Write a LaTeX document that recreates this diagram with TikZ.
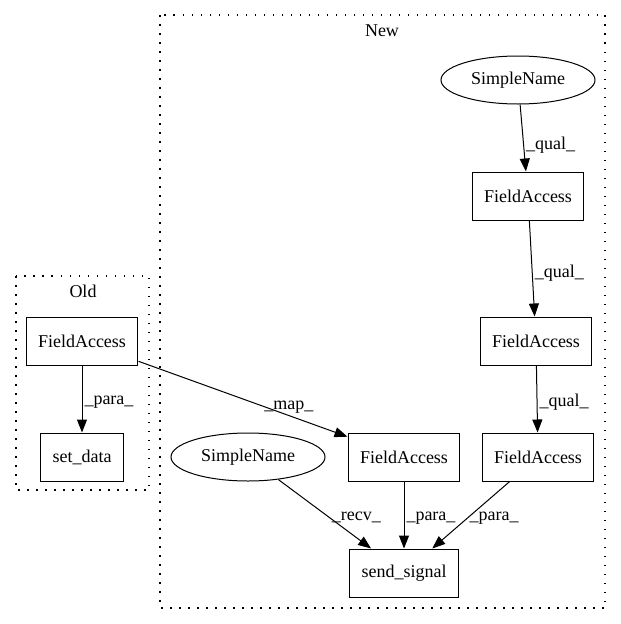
\documentclass[tikz,border=0pt]{standalone}
\usepackage{fontspec}
\setmainfont{Liberation Serif}
\usetikzlibrary{arrows.meta,shapes.geometric}

\begin{document}
\begin{tikzpicture}
      [x=1pt, y=-1pt,
       every node/.style={font=\fontsize{18}{20}\selectfont},
       box/.style={draw, rectangle, line width=1pt, minimum height=48pt, inner xsep=12pt},
       oval/.style={draw, ellipse, line width=1pt, minimum width=154pt, minimum height=48pt, inner sep=0pt},
       cluster/.style={draw, line width=1.5pt, dash pattern=on 1.5pt off 7.5pt},
       edge/.style={line width=1pt, -{Triangle[length=13pt, width=10pt]}},
       lbl/.style={inner sep=2pt}]
      \useasboundingbox (0,0) rectangle (621,624);

      % Clusters
      \draw[cluster] (16,276) rectangle (149,490);
      \draw[cluster] (160,15) rectangle (605,608);
      \node (old) at (83,291) {Old};
      \node (new) at (382,31) {New};

      % Set up nodes
      \node[box] (ofa) at (82,341) {FieldAccess};
      \node[box] (sd) at (82,457) {set\_data};

      \node[oval] (sn1) at (518,80) {SimpleName};
      \node[box] (fa1) at (528,196) {FieldAccess};
      \node[box] (fa2) at (536,341) {FieldAccess};
      \node[box] (fa3) at (538,457) {FieldAccess};
      \node[box] (fa4) at (404,457) {FieldAccess};
      \node[oval] (sn2) at (248,457) {SimpleName};
      \node[box] (ss) at (404,573) {send\_signal};

      % Draw edges with labels
      \draw[edge] (ofa) -- node[lbl, pos=0.55, right] {\_para\_} (sd);
      \draw[edge] (ofa) -- node[lbl, pos=0.72, above] {\_map\_} (fa4);
      \draw[edge] (sn1) -- node[lbl, pos=0.6, right] {\_qual\_} (fa1);
      \draw[edge] (fa1) -- node[lbl, pos=0.55, right] {\_qual\_} (fa2);
      \draw[edge] (fa2) -- node[lbl, pos=0.55, right] {\_qual\_} (fa3);
      \draw[edge] (sn2) -- node[lbl, pos=0.55, right] {\_recv\_} (ss);
      \draw[edge] (fa4) -- node[lbl, pos=0.55, right] {\_para\_} (ss);
      \draw[edge] (fa3) -- node[lbl, pos=0.55, right] {\_para\_} (ss);

    \end{tikzpicture}
\end{document}
